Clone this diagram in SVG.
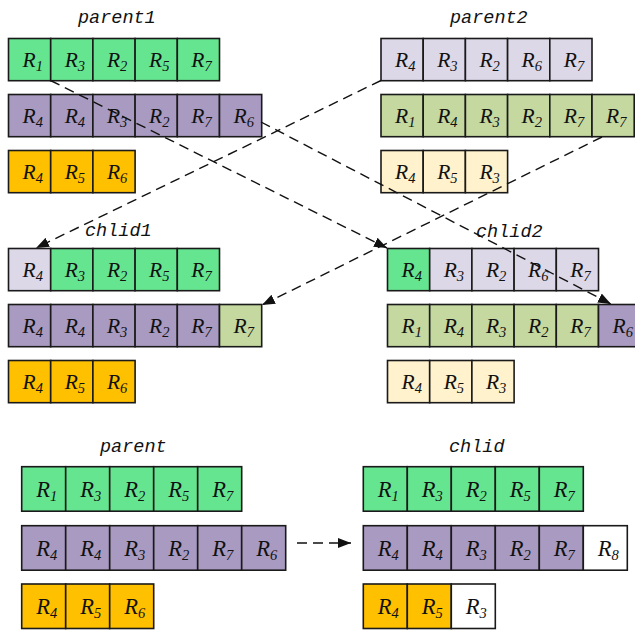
<svg xmlns="http://www.w3.org/2000/svg" width="635" height="630" viewBox="0 0 635 630">
  <style>
    .cell { stroke: #1a1a1a; stroke-width: 1.6; }
    .g { fill: #66E591; }
    .p { fill: #A89AC0; }
    .o { fill: #FFC000; }
    .l { fill: #DDD8E8; }
    .lg { fill: #C4D8A0; }
    .ly { fill: #FFF2CC; }
    .w { fill: #FFFFFF; }
    .r { font-family: "Liberation Serif", "Times New Roman", serif; font-style: italic; font-size: 21.5px; fill: #111; }
    .rb { font-family: "Liberation Serif", "Times New Roman", serif; font-style: italic; font-size: 22.5px; fill: #111; }
    .sub { font-size: 14.5px; }
    .title { font-family: "Liberation Mono", "Courier New", monospace; font-style: italic; font-size: 18.5px; fill: #111; }
    .link { fill: none; stroke: #111; stroke-width: 1.4; stroke-dasharray: 10 6; }
  </style>
  <defs>
    <marker id="arrow" viewBox="0 0 13 10" refX="13" refY="5" markerWidth="13" markerHeight="10" markerUnits="userSpaceOnUse" orient="auto">
      <path d="M0,0 L13,5 L0,10 Z" fill="#111"/>
    </marker>
  </defs>

  <!-- titles -->
  <text class="title" x="78" y="23">parent1</text>
  <text class="title" x="450" y="23">parent2</text>
  <text class="title" x="85" y="236">chlid1</text>
  <text class="title" x="476" y="237">chlid2</text>
  <text class="title" x="100" y="452">parent</text>
  <text class="title" x="449" y="452">chlid</text>

  <!-- parent1 -->
  <g id="parent1">
    <g id="p1-row1" transform="translate(8.5,38.5)">
      <rect class="cell g" x="0" y="0" width="42.2" height="42.2"/>
      <rect class="cell g" x="42.2" y="0" width="42.2" height="42.2"/>
      <rect class="cell g" x="84.4" y="0" width="42.2" height="42.2"/>
      <rect class="cell g" x="126.6" y="0" width="42.2" height="42.2"/>
      <rect class="cell g" x="168.8" y="0" width="42.2" height="42.2"/>
      <text class="r" x="14" y="28.5">R<tspan class="sub" dy="4">1</tspan></text>
      <text class="r" x="56.2" y="28.5">R<tspan class="sub" dy="4">3</tspan></text>
      <text class="r" x="98.4" y="28.5">R<tspan class="sub" dy="4">2</tspan></text>
      <text class="r" x="140.6" y="28.5">R<tspan class="sub" dy="4">5</tspan></text>
      <text class="r" x="182.8" y="28.5">R<tspan class="sub" dy="4">7</tspan></text>
    </g>
    <g id="p1-row2" transform="translate(8.5,94.5)">
      <rect class="cell p" x="0" y="0" width="42.2" height="42.2"/>
      <rect class="cell p" x="42.2" y="0" width="42.2" height="42.2"/>
      <rect class="cell p" x="84.4" y="0" width="42.2" height="42.2"/>
      <rect class="cell p" x="126.6" y="0" width="42.2" height="42.2"/>
      <rect class="cell p" x="168.8" y="0" width="42.2" height="42.2"/>
      <rect class="cell p" x="211" y="0" width="42.2" height="42.2"/>
      <text class="r" x="14" y="28.5">R<tspan class="sub" dy="4">4</tspan></text>
      <text class="r" x="56.2" y="28.5">R<tspan class="sub" dy="4">4</tspan></text>
      <text class="r" x="98.4" y="28.5">R<tspan class="sub" dy="4">3</tspan></text>
      <text class="r" x="140.6" y="28.5">R<tspan class="sub" dy="4">2</tspan></text>
      <text class="r" x="182.8" y="28.5">R<tspan class="sub" dy="4">7</tspan></text>
      <text class="r" x="225" y="28.5">R<tspan class="sub" dy="4">6</tspan></text>
    </g>
    <g id="p1-row3" transform="translate(8.5,150.5)">
      <rect class="cell o" x="0" y="0" width="42.2" height="42.2"/>
      <rect class="cell o" x="42.2" y="0" width="42.2" height="42.2"/>
      <rect class="cell o" x="84.4" y="0" width="42.2" height="42.2"/>
      <text class="r" x="14" y="28.5">R<tspan class="sub" dy="4">4</tspan></text>
      <text class="r" x="56.2" y="28.5">R<tspan class="sub" dy="4">5</tspan></text>
      <text class="r" x="98.4" y="28.5">R<tspan class="sub" dy="4">6</tspan></text>
    </g>
  </g>

  <!-- parent2 -->
  <g id="parent2">
    <g id="p2-row1" transform="translate(381,38.5)">
      <rect class="cell l" x="0" y="0" width="42.2" height="42.2"/>
      <rect class="cell l" x="42.2" y="0" width="42.2" height="42.2"/>
      <rect class="cell l" x="84.4" y="0" width="42.2" height="42.2"/>
      <rect class="cell l" x="126.6" y="0" width="42.2" height="42.2"/>
      <rect class="cell l" x="168.8" y="0" width="42.2" height="42.2"/>
      <text class="r" x="14" y="28.5">R<tspan class="sub" dy="4">4</tspan></text>
      <text class="r" x="56.2" y="28.5">R<tspan class="sub" dy="4">3</tspan></text>
      <text class="r" x="98.4" y="28.5">R<tspan class="sub" dy="4">2</tspan></text>
      <text class="r" x="140.6" y="28.5">R<tspan class="sub" dy="4">6</tspan></text>
      <text class="r" x="182.8" y="28.5">R<tspan class="sub" dy="4">7</tspan></text>
    </g>
    <g id="p2-row2" transform="translate(381,94.5)">
      <rect class="cell lg" x="0" y="0" width="42.2" height="42.2"/>
      <rect class="cell lg" x="42.2" y="0" width="42.2" height="42.2"/>
      <rect class="cell lg" x="84.4" y="0" width="42.2" height="42.2"/>
      <rect class="cell lg" x="126.6" y="0" width="42.2" height="42.2"/>
      <rect class="cell lg" x="168.8" y="0" width="42.2" height="42.2"/>
      <rect class="cell lg" x="211" y="0" width="42.2" height="42.2"/>
      <text class="r" x="14" y="28.5">R<tspan class="sub" dy="4">1</tspan></text>
      <text class="r" x="56.2" y="28.5">R<tspan class="sub" dy="4">4</tspan></text>
      <text class="r" x="98.4" y="28.5">R<tspan class="sub" dy="4">3</tspan></text>
      <text class="r" x="140.6" y="28.5">R<tspan class="sub" dy="4">2</tspan></text>
      <text class="r" x="182.8" y="28.5">R<tspan class="sub" dy="4">7</tspan></text>
      <text class="r" x="225" y="28.5">R<tspan class="sub" dy="4">7</tspan></text>
    </g>
    <g id="p2-row3" transform="translate(381,150.5)">
      <rect class="cell ly" x="0" y="0" width="42.2" height="42.2"/>
      <rect class="cell ly" x="42.2" y="0" width="42.2" height="42.2"/>
      <rect class="cell ly" x="84.4" y="0" width="42.2" height="42.2"/>
      <text class="r" x="14" y="28.5">R<tspan class="sub" dy="4">4</tspan></text>
      <text class="r" x="56.2" y="28.5">R<tspan class="sub" dy="4">5</tspan></text>
      <text class="r" x="98.4" y="28.5">R<tspan class="sub" dy="4">3</tspan></text>
    </g>
  </g>

  <!-- chlid1 -->
  <g id="chlid1">
    <g id="c1-row1" transform="translate(8.5,248.5)">
      <rect class="cell l" x="0" y="0" width="42.2" height="42.2"/>
      <rect class="cell g" x="42.2" y="0" width="42.2" height="42.2"/>
      <rect class="cell g" x="84.4" y="0" width="42.2" height="42.2"/>
      <rect class="cell g" x="126.6" y="0" width="42.2" height="42.2"/>
      <rect class="cell g" x="168.8" y="0" width="42.2" height="42.2"/>
      <text class="r" x="14" y="28.5">R<tspan class="sub" dy="4">4</tspan></text>
      <text class="r" x="56.2" y="28.5">R<tspan class="sub" dy="4">3</tspan></text>
      <text class="r" x="98.4" y="28.5">R<tspan class="sub" dy="4">2</tspan></text>
      <text class="r" x="140.6" y="28.5">R<tspan class="sub" dy="4">5</tspan></text>
      <text class="r" x="182.8" y="28.5">R<tspan class="sub" dy="4">7</tspan></text>
    </g>
    <g id="c1-row2" transform="translate(8.5,304.5)">
      <rect class="cell p" x="0" y="0" width="42.2" height="42.2"/>
      <rect class="cell p" x="42.2" y="0" width="42.2" height="42.2"/>
      <rect class="cell p" x="84.4" y="0" width="42.2" height="42.2"/>
      <rect class="cell p" x="126.6" y="0" width="42.2" height="42.2"/>
      <rect class="cell p" x="168.8" y="0" width="42.2" height="42.2"/>
      <rect class="cell lg" x="211" y="0" width="42.2" height="42.2"/>
      <text class="r" x="14" y="28.5">R<tspan class="sub" dy="4">4</tspan></text>
      <text class="r" x="56.2" y="28.5">R<tspan class="sub" dy="4">4</tspan></text>
      <text class="r" x="98.4" y="28.5">R<tspan class="sub" dy="4">3</tspan></text>
      <text class="r" x="140.6" y="28.5">R<tspan class="sub" dy="4">2</tspan></text>
      <text class="r" x="182.8" y="28.5">R<tspan class="sub" dy="4">7</tspan></text>
      <text class="r" x="225" y="28.5">R<tspan class="sub" dy="4">7</tspan></text>
    </g>
    <g id="c1-row3" transform="translate(8.5,360.5)">
      <rect class="cell o" x="0" y="0" width="42.2" height="42.2"/>
      <rect class="cell o" x="42.2" y="0" width="42.2" height="42.2"/>
      <rect class="cell o" x="84.4" y="0" width="42.2" height="42.2"/>
      <text class="r" x="14" y="28.5">R<tspan class="sub" dy="4">4</tspan></text>
      <text class="r" x="56.2" y="28.5">R<tspan class="sub" dy="4">5</tspan></text>
      <text class="r" x="98.4" y="28.5">R<tspan class="sub" dy="4">6</tspan></text>
    </g>
  </g>

  <!-- chlid2 -->
  <g id="chlid2">
    <g id="c2-row1" transform="translate(387.5,248.5)">
      <rect class="cell g" x="0" y="0" width="42.2" height="42.2"/>
      <rect class="cell l" x="42.2" y="0" width="42.2" height="42.2"/>
      <rect class="cell l" x="84.4" y="0" width="42.2" height="42.2"/>
      <rect class="cell l" x="126.6" y="0" width="42.2" height="42.2"/>
      <rect class="cell l" x="168.8" y="0" width="42.2" height="42.2"/>
      <text class="r" x="14" y="28.5">R<tspan class="sub" dy="4">4</tspan></text>
      <text class="r" x="56.2" y="28.5">R<tspan class="sub" dy="4">3</tspan></text>
      <text class="r" x="98.4" y="28.5">R<tspan class="sub" dy="4">2</tspan></text>
      <text class="r" x="140.6" y="28.5">R<tspan class="sub" dy="4">6</tspan></text>
      <text class="r" x="182.8" y="28.5">R<tspan class="sub" dy="4">7</tspan></text>
    </g>
    <g id="c2-row2" transform="translate(387.5,304.5)">
      <rect class="cell lg" x="0" y="0" width="42.2" height="42.2"/>
      <rect class="cell lg" x="42.2" y="0" width="42.2" height="42.2"/>
      <rect class="cell lg" x="84.4" y="0" width="42.2" height="42.2"/>
      <rect class="cell lg" x="126.6" y="0" width="42.2" height="42.2"/>
      <rect class="cell lg" x="168.8" y="0" width="42.2" height="42.2"/>
      <rect class="cell p" x="211" y="0" width="42.2" height="42.2"/>
      <text class="r" x="14" y="28.5">R<tspan class="sub" dy="4">1</tspan></text>
      <text class="r" x="56.2" y="28.5">R<tspan class="sub" dy="4">4</tspan></text>
      <text class="r" x="98.4" y="28.5">R<tspan class="sub" dy="4">3</tspan></text>
      <text class="r" x="140.6" y="28.5">R<tspan class="sub" dy="4">2</tspan></text>
      <text class="r" x="182.8" y="28.5">R<tspan class="sub" dy="4">7</tspan></text>
      <text class="r" x="225" y="28.5">R<tspan class="sub" dy="4">6</tspan></text>
    </g>
    <g id="c2-row3" transform="translate(387.5,360.5)">
      <rect class="cell ly" x="0" y="0" width="42.2" height="42.2"/>
      <rect class="cell ly" x="42.2" y="0" width="42.2" height="42.2"/>
      <rect class="cell ly" x="84.4" y="0" width="42.2" height="42.2"/>
      <text class="r" x="14" y="28.5">R<tspan class="sub" dy="4">4</tspan></text>
      <text class="r" x="56.2" y="28.5">R<tspan class="sub" dy="4">5</tspan></text>
      <text class="r" x="98.4" y="28.5">R<tspan class="sub" dy="4">3</tspan></text>
    </g>
  </g>

  <!-- parent (mutation) -->
  <g id="parent">
    <g id="pm-row1" transform="translate(21.7,466.7)">
      <rect class="cell g" x="0" y="0" width="44" height="44.5"/>
      <rect class="cell g" x="44" y="0" width="44" height="44.5"/>
      <rect class="cell g" x="88" y="0" width="44" height="44.5"/>
      <rect class="cell g" x="132" y="0" width="44" height="44.5"/>
      <rect class="cell g" x="176" y="0" width="44" height="44.5"/>
      <text class="rb" x="14.5" y="30">R<tspan class="sub" dy="4">1</tspan></text>
      <text class="rb" x="58.5" y="30">R<tspan class="sub" dy="4">3</tspan></text>
      <text class="rb" x="102.5" y="30">R<tspan class="sub" dy="4">2</tspan></text>
      <text class="rb" x="146.5" y="30">R<tspan class="sub" dy="4">5</tspan></text>
      <text class="rb" x="190.5" y="30">R<tspan class="sub" dy="4">7</tspan></text>
    </g>
    <g id="pm-row2" transform="translate(21.7,525.7)">
      <rect class="cell p" x="0" y="0" width="44" height="44.5"/>
      <rect class="cell p" x="44" y="0" width="44" height="44.5"/>
      <rect class="cell p" x="88" y="0" width="44" height="44.5"/>
      <rect class="cell p" x="132" y="0" width="44" height="44.5"/>
      <rect class="cell p" x="176" y="0" width="44" height="44.5"/>
      <rect class="cell p" x="220" y="0" width="44" height="44.5"/>
      <text class="rb" x="14.5" y="30">R<tspan class="sub" dy="4">4</tspan></text>
      <text class="rb" x="58.5" y="30">R<tspan class="sub" dy="4">4</tspan></text>
      <text class="rb" x="102.5" y="30">R<tspan class="sub" dy="4">3</tspan></text>
      <text class="rb" x="146.5" y="30">R<tspan class="sub" dy="4">2</tspan></text>
      <text class="rb" x="190.5" y="30">R<tspan class="sub" dy="4">7</tspan></text>
      <text class="rb" x="234.5" y="30">R<tspan class="sub" dy="4">6</tspan></text>
    </g>
    <g id="pm-row3" transform="translate(21.7,584)">
      <rect class="cell o" x="0" y="0" width="44" height="44.5"/>
      <rect class="cell o" x="44" y="0" width="44" height="44.5"/>
      <rect class="cell o" x="88" y="0" width="44" height="44.5"/>
      <text class="rb" x="14.5" y="30">R<tspan class="sub" dy="4">4</tspan></text>
      <text class="rb" x="58.5" y="30">R<tspan class="sub" dy="4">5</tspan></text>
      <text class="rb" x="102.5" y="30">R<tspan class="sub" dy="4">6</tspan></text>
    </g>
  </g>

  <!-- chlid (mutation) -->
  <g id="chlid">
    <g id="cm-row1" transform="translate(363.3,466.7)">
      <rect class="cell g" x="0" y="0" width="44" height="44.5"/>
      <rect class="cell g" x="44" y="0" width="44" height="44.5"/>
      <rect class="cell g" x="88" y="0" width="44" height="44.5"/>
      <rect class="cell g" x="132" y="0" width="44" height="44.5"/>
      <rect class="cell g" x="176" y="0" width="44" height="44.5"/>
      <text class="rb" x="14.5" y="30">R<tspan class="sub" dy="4">1</tspan></text>
      <text class="rb" x="58.5" y="30">R<tspan class="sub" dy="4">3</tspan></text>
      <text class="rb" x="102.5" y="30">R<tspan class="sub" dy="4">2</tspan></text>
      <text class="rb" x="146.5" y="30">R<tspan class="sub" dy="4">5</tspan></text>
      <text class="rb" x="190.5" y="30">R<tspan class="sub" dy="4">7</tspan></text>
    </g>
    <g id="cm-row2" transform="translate(363.3,525.7)">
      <rect class="cell p" x="0" y="0" width="44" height="44.5"/>
      <rect class="cell p" x="44" y="0" width="44" height="44.5"/>
      <rect class="cell p" x="88" y="0" width="44" height="44.5"/>
      <rect class="cell p" x="132" y="0" width="44" height="44.5"/>
      <rect class="cell p" x="176" y="0" width="44" height="44.5"/>
      <rect class="cell w" x="220" y="0" width="44" height="44.5"/>
      <text class="rb" x="14.5" y="30">R<tspan class="sub" dy="4">4</tspan></text>
      <text class="rb" x="58.5" y="30">R<tspan class="sub" dy="4">4</tspan></text>
      <text class="rb" x="102.5" y="30">R<tspan class="sub" dy="4">3</tspan></text>
      <text class="rb" x="146.5" y="30">R<tspan class="sub" dy="4">2</tspan></text>
      <text class="rb" x="190.5" y="30">R<tspan class="sub" dy="4">7</tspan></text>
      <text class="rb" x="234.5" y="30">R<tspan class="sub" dy="4">8</tspan></text>
    </g>
    <g id="cm-row3" transform="translate(363.3,584)">
      <rect class="cell o" x="0" y="0" width="44" height="44.5"/>
      <rect class="cell o" x="44" y="0" width="44" height="44.5"/>
      <rect class="cell w" x="88" y="0" width="44" height="44.5"/>
      <text class="rb" x="14.5" y="30">R<tspan class="sub" dy="4">4</tspan></text>
      <text class="rb" x="58.5" y="30">R<tspan class="sub" dy="4">5</tspan></text>
      <text class="rb" x="102.5" y="30">R<tspan class="sub" dy="4">3</tspan></text>
    </g>
  </g>

  <!-- crossover and mutation connectors -->
  <g id="connectors">
    <line class="link" x1="50.5" y1="80.5" x2="387" y2="248" marker-end="url(#arrow)"/>
    <line class="link" x1="381" y1="80.5" x2="36" y2="248" marker-end="url(#arrow)"/>
    <line class="link" x1="602" y1="137" x2="262" y2="305" marker-end="url(#arrow)"/>
    <line class="link" x1="261" y1="122" x2="611" y2="304" marker-end="url(#arrow)"/>
    <line class="link" x1="297" y1="543" x2="351" y2="543" marker-end="url(#arrow)"/>
  </g>
</svg>
